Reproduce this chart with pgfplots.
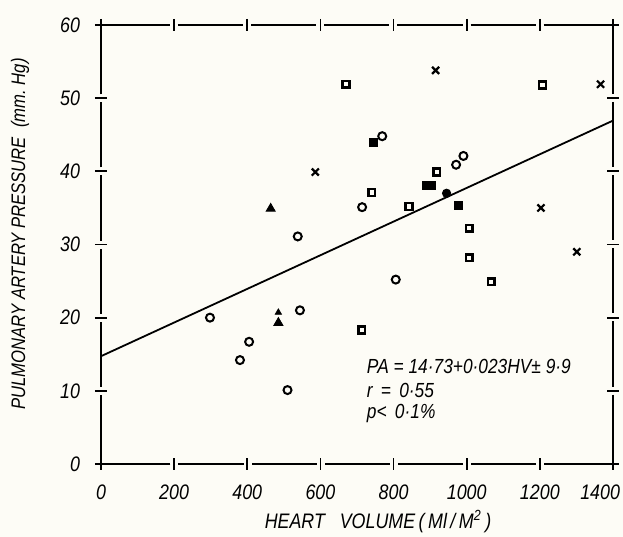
\documentclass[border=0pt]{standalone}
\usepackage{fontspec}
\setmainfont{Liberation Sans}[FakeStretch=0.85]
\usepackage{pgfplots}
\pgfplotsset{compat=1.18}
\usetikzlibrary{backgrounds}
\definecolor{paper}{RGB}{253,252,246}
\begin{document}
\begin{tikzpicture}
\begin{axis}[
  scale only axis, width=256pt, height=219.5pt,
  xmin=0, xmax=1400, ymin=0, ymax=60,
  xtick={0,200,...,1400}, ytick={0,10,...,60},
  xticklabels={0,200,400,600,800,1000,1200,\makebox[7pt][r]{1400}},
  tick align=center, major tick length=6pt,
  tick style={line width=0.9pt, black, solid},
  axis line style={line width=0.9pt, dash pattern=on 32.57pt off 4pt, dash phase=34.57pt},
  /pgf/number format/assume math mode=true,
  /pgf/number format/1000 sep={},
  ticklabel style={font=\itshape\fontsize{10.5}{12}\selectfont},
  xticklabel style={yshift=-4pt},
  yticklabel style={xshift=-4pt},
  xlabel={HEART~~~VOLUME\,(\,Ml\,/\,M\textsuperscript{2}\,)},
  ylabel={PULMONARY~ARTERY~PRESSURE~~(mm.~Hg)},
  xlabel style={at={(axis description cs:0.541,-0.132)}, anchor=center, font=\itshape\fontsize{10.5}{12}\selectfont},
  ylabel style={at={(axis description cs:-0.158,0.524)}, anchor=center, font=\itshape\fontsize{9.8}{11}\selectfont},
  clip=false,
]
\addplot[line width=0.9pt, black] coordinates {(0,14.73) (1400,46.93)};
% open circles
\addplot[only marks, mark=o, mark size=2.0pt, line width=1pt, black] coordinates {
 (298,20) (380,14.2) (405,16.7) (510,10.1) (538,31.1) (544,21.0)
 (714,35.1) (769,44.8) (806,25.2) (971,40.9) (991,42.1)};
% open squares
\addplot[only marks, mark=square, mark size=1.7pt, line width=1.3pt, black] coordinates {
 (670,51.9) (740,37.1) (842,35.2) (918,39.9) (1007,32.2) (1007,28.2) (1067,24.9) (713,18.3) (1207,51.8)};
% filled squares
\addplot[only marks, mark=square*, mark size=2.0pt, black] coordinates {
 (746,44.0) (890,38.1) (904,38.1) (977,35.3)};
% filled circle
\addplot[only marks, mark=*, mark size=2.1pt, black] coordinates {(945,37.0)};
% crosses
\addplot[only marks, mark=x, mark size=2.5pt, line width=1.1pt, black] coordinates {
 (586,39.9) (915,53.8) (1366,51.9) (1203,35.0) (1301,29.0)};
% triangles
\addplot[only marks, mark=triangle*, mark size=2.6pt, black] coordinates {(464,34.9) (485,19.3)};
\addplot[only marks, mark=triangle*, mark size=1.8pt, black] coordinates {(485,20.7)};
\node[anchor=west, font=\itshape\fontsize{10.2}{12}\selectfont] at (axis cs:708,13.3) {PA = 14·73+0·023HV± 9·9};
\node[anchor=west, font=\itshape\fontsize{10.2}{12}\selectfont] at (axis cs:708,10.0) {r \,=\, 0·55};
\node[anchor=west, font=\itshape\fontsize{10.2}{12}\selectfont] at (axis cs:708,6.9) {p< \,0·1\%};
\coordinate (SW) at (rel axis cs:0,0);
\coordinate (NE) at (rel axis cs:1,1);
\end{axis}
\pgfresetboundingbox
\path[use as bounding box] ([xshift=-50.5pt,yshift=-36.5pt]SW) rectangle ([xshift=5pt,yshift=12.5pt]NE);
\begin{pgfonlayer}{background}
\fill[paper] ([xshift=-50.5pt,yshift=-36.5pt]SW) rectangle ([xshift=5pt,yshift=12.5pt]NE);
\end{pgfonlayer}
\end{tikzpicture}
\end{document}
